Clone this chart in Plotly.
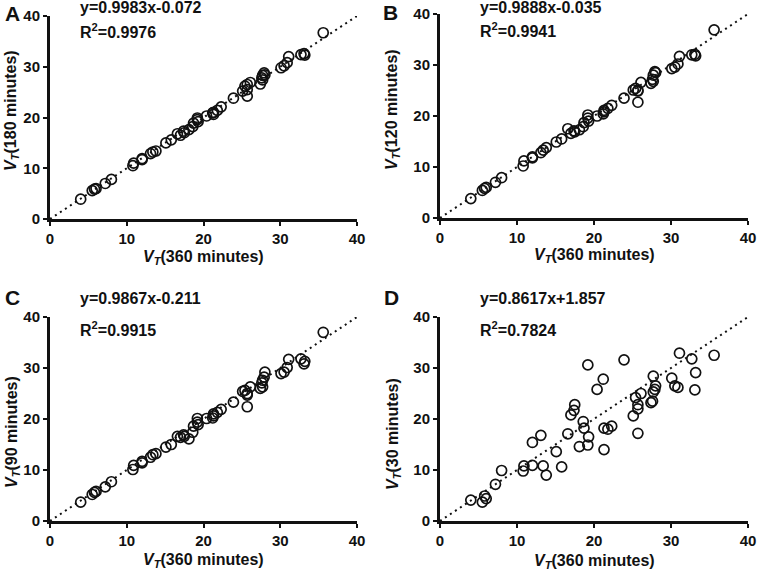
import plotly.graph_objects as go

# V_T at 360 minutes (reference, x for all panels)
vt_360 = [4.0, 5.5, 5.8, 6.0, 7.2, 8.0, 10.8, 10.9, 12.0, 12.0, 13.1, 13.4, 13.8, 15.1, 15.8,
          16.6, 17.0, 17.4, 17.5, 18.1, 18.6, 18.7, 19.2, 19.3, 19.2, 20.4, 21.2, 21.3, 21.3,
          21.8, 22.3, 23.9, 25.1, 25.4, 25.7, 25.7, 25.7, 26.1, 27.4, 27.6, 27.7, 27.7, 27.9,
          28.0, 30.1, 30.5, 30.9, 31.1, 32.7, 33.1, 33.2, 35.6]

vt_180 = [3.9, 5.6, 5.9, 6.0, 7.0, 7.8, 10.5, 11.0, 11.7, 11.9, 12.9, 13.2, 13.4, 15.0, 15.6,
          16.8, 16.5, 17.3, 17.0, 17.6, 18.2, 18.9, 19.6, 19.2, 19.9, 20.3, 20.9, 21.0, 20.6,
          21.4, 22.1, 23.8, 25.2, 26.2, 24.2, 25.5, 26.5, 26.9, 26.6, 27.8, 28.3, 27.4, 28.8,
          28.4, 29.8, 30.2, 30.8, 32.0, 32.4, 32.6, 32.3, 36.7]

vt_120 = [3.8, 5.4, 5.8, 6.0, 7.0, 7.9, 10.2, 11.2, 11.8, 12.0, 12.8, 13.3, 13.8, 14.9, 15.5,
          17.5, 16.6, 17.1, 16.9, 17.3, 17.9, 18.7, 20.2, 19.0, 19.6, 20.0, 20.4, 21.1, 20.8,
          21.5, 22.1, 23.5, 25.1, 25.4, 22.7, 25.0, 24.9, 26.6, 26.4, 27.2, 28.0, 26.8, 28.7,
          28.5, 29.3, 29.6, 30.2, 31.7, 32.0, 32.1, 31.8, 36.9]

vt_90 = [3.7, 5.2, 5.6, 5.8, 6.7, 7.7, 10.1, 10.9, 11.4, 11.7, 12.5, 13.0, 13.2, 14.5, 15.0,
         16.6, 16.4, 16.9, 16.6, 16.1, 17.4, 18.6, 20.1, 18.9, 19.4, 20.1, 20.2, 21.0, 20.6,
         21.3, 21.9, 23.3, 25.4, 25.6, 22.4, 24.7, 25.0, 26.3, 26.0, 27.1, 27.6, 26.3, 28.2,
         29.2, 28.9, 29.2, 30.1, 31.7, 31.8, 30.8, 31.3, 37.0]

vt_30 = [4.1, 3.7, 4.9, 4.4, 7.2, 9.9, 9.8, 10.8, 10.9, 15.4, 16.8, 10.8, 9.0, 13.6, 10.6,
         17.1, 20.8, 21.7, 22.8, 14.6, 19.5, 18.2, 30.6, 16.5, 14.9, 25.8, 27.8, 18.2, 14.0,
         18.0, 18.6, 31.6, 20.6, 24.2, 17.2, 22.8, 22.0, 25.0, 23.2, 23.5, 28.4, 25.3, 25.8,
         26.5, 28.0, 26.5, 26.2, 32.9, 31.8, 25.7, 29.1, 32.5]

panel_letters = ["A", "B", "C", "D"]
y_minutes = ["180", "120", "90", "30"]
equations = ["y=0.9983x-0.072", "y=0.9888x-0.035", "y=0.9867x-0.211", "y=0.8617x+1.857"]
r_squared = ["0.9976", "0.9941", "0.9915", "0.7824"]
identity_line = [0, 40]
tick_vals = [0, 10, 20, 30, 40]

series = [vt_180, vt_120, vt_90, vt_30]

W, H = 757, 573
FONT = "Liberation Sans, Arial, sans-serif"
INK = "#111111"

# panel plot-area boxes in pixels: (left, right, top, bottom)
boxes = [(50, 357, 16, 219), (440, 748, 14, 218), (50, 357, 317, 521), (440, 748, 317, 521)]
# text placements in pixels
eq_pos = [(78, 8, 31), (478, 8, 30), (78, 298, 329), (478, 298, 329)]
letter_pos = [(12, 13), (390, 12), (12, 297), (391, 297)]
xtitle_y = [258, 256, 560, 561]
ytitle_pos = [(11, 111), (393, 109), (12, 432), (393, 434)]

def px(x):
    return x / W

def py(y):
    return 1 - y / H

fig = go.Figure()
annotations = []

for i in range(4):
    l, r, t, b = boxes[i]
    xa = "x" if i == 0 else f"x{i+1}"
    ya = "y" if i == 0 else f"y{i+1}"
    fig.add_trace(go.Scatter(
        x=identity_line, y=identity_line, mode="lines",
        line=dict(color=INK, width=2, dash="2px,4px"),
        xaxis=xa, yaxis=ya, showlegend=False, hoverinfo="skip"))
    fig.add_trace(go.Scatter(
        x=vt_360, y=series[i], mode="markers",
        marker=dict(symbol="circle-open", size=10, color=INK, line=dict(width=1.7, color=INK)),
        xaxis=xa, yaxis=ya, showlegend=False, cliponaxis=False))

    axis_common = dict(
        range=[0, 40], tickvals=tick_vals, showgrid=False, zeroline=False,
        showline=True, linecolor=INK, linewidth=3, ticks="outside", ticklen=4,
        tickwidth=2, tickcolor=INK, ticklabeloverflow="allow",
        tickfont=dict(family=FONT, size=15, color=INK, weight="bold"),
        fixedrange=True, automargin=False)
    key_x = "xaxis" if i == 0 else f"xaxis{i+1}"
    key_y = "yaxis" if i == 0 else f"yaxis{i+1}"
    fig.update_layout(**{
        key_x: dict(axis_common, domain=[px(l), px(r)], anchor=ya),
        key_y: dict(axis_common, domain=[py(b), py(t)], anchor=xa),
    })

    ex, ey1, ey2 = eq_pos[i]
    annotations.append(dict(x=px(ex), y=py(ey1), xref="paper", yref="paper",
                            xanchor="left", yanchor="middle", showarrow=False,
                            text=equations[i],
                            font=dict(family=FONT, size=16, color=INK, weight="bold")))
    annotations.append(dict(x=px(ex), y=py(ey2), xref="paper", yref="paper",
                            xanchor="left", yanchor="middle", showarrow=False,
                            text="R<sup>2</sup>=" + r_squared[i],
                            font=dict(family=FONT, size=16, color=INK, weight="bold")))
    lx, ly = letter_pos[i]
    annotations.append(dict(x=px(lx), y=py(ly), xref="paper", yref="paper",
                            xanchor="center", yanchor="middle", showarrow=False,
                            text=panel_letters[i],
                            font=dict(family=FONT, size=21, color=INK, weight="bold")))
    annotations.append(dict(x=px((l + r) / 2), y=py(xtitle_y[i]), xref="paper", yref="paper",
                            xanchor="center", yanchor="middle", showarrow=False,
                            text="<i>V</i><sub><i>T</i></sub>(360 minutes)",
                            font=dict(family=FONT, size=16, color=INK, weight="bold")))
    tx, ty = ytitle_pos[i]
    annotations.append(dict(x=px(tx), y=py(ty), xref="paper", yref="paper",
                            xanchor="center", yanchor="middle", showarrow=False,
                            textangle=-90,
                            text=f"<i>V</i><sub><i>T</i></sub>({y_minutes[i]} minutes)",
                            font=dict(family=FONT, size=16, color=INK, weight="bold")))

fig.update_layout(
    width=W, height=H, margin=dict(l=0, r=0, t=0, b=0),
    paper_bgcolor="white", plot_bgcolor="white",
    annotations=annotations, showlegend=False,
)

fig.write_html("out.html", config={"displayModeBar": False},
               post_script="document.body.style.margin='0';document.body.style.padding='0';")
